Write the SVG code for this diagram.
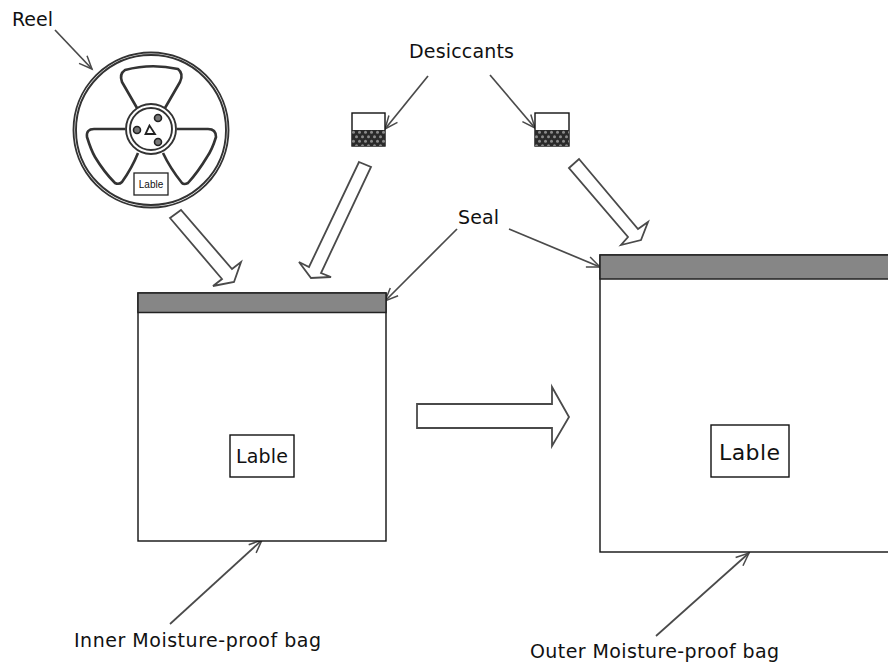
<svg xmlns="http://www.w3.org/2000/svg" width="888" height="663" viewBox="0 0 888 663">
<style>
text{font-family:"DejaVu Sans",Verdana,sans-serif;fill:#111}
.t{font-size:19px}
.box{fill:#fff;stroke:#111;stroke-width:1.4}
.seal{fill:#868686;stroke:#222;stroke-width:1.5}
.ln{fill:none;stroke:#4a4a4a;stroke-width:1.7}
.big{fill:#fff;stroke:#4a4a4a;stroke-width:1.8;stroke-linejoin:miter}
.r{fill:none;stroke:#333;stroke-width:1.9}
.l{fill:none;stroke:#333;stroke-width:2.6;stroke-linejoin:round}
.s{fill:#777;stroke:#222;stroke-width:1.6}
</style>
<defs>
<marker id="a" markerUnits="userSpaceOnUse" markerWidth="18" markerHeight="16" refX="14" refY="7" orient="auto"><path d="M1 1.500L14 7L1 12.500" fill="none" stroke="#4a4a4a" stroke-width="1.5"/></marker>
<pattern id="dots" x="352" y="130" width="6" height="9" patternUnits="userSpaceOnUse"><rect width="6" height="9" fill="#2a2a2a"/><circle cx="1.500" cy="2.200" r="1.500" fill="#8a8a8a"/><circle cx="4.500" cy="6.700" r="1.500" fill="#8a8a8a"/></pattern>
</defs>
<g id="connectors">
<path class="ln" marker-end="url(#a)" d="M55 30L92 69"/>
<path class="ln" marker-end="url(#a)" d="M428 76L385 129"/>
<path class="ln" marker-end="url(#a)" d="M490 75L535 128"/>
<path class="ln" marker-end="url(#a)" d="M457 229L385 301"/>
<path class="ln" marker-end="url(#a)" d="M509 229L600 267"/>
<path class="ln" marker-end="url(#a)" d="M170 624L262 540"/>
<path class="ln" marker-end="url(#a)" d="M656 636L749 553"/>
<polygon class="big" points="170,218 181,210 232,269 241,262 234,282 213,286 222,279"/>
<polygon class="big" points="359,162 371,167 321,273 331,277 311,278 299,262 309,267"/>
<polygon class="big" points="569,168 579,159 638,229 648,222 641,240 621,245 628,237"/>
<polygon class="big" points="417,404 552,404 552,387 569,417 552,446 552,428 417,428"/>
</g>
<g id="reel">
<circle class="r" cx="151" cy="130" r="77.500"/><circle class="r" cx="151" cy="130" r="75"/>
<path class="l" d="M137 108L122 82Q119 74 125 70Q151 63 178 69Q184 74 180 82L165 108"/>
<path class="l" d="M125 129H94Q86 129 87 137Q91 150 95 157Q104 172 115 183Q119 185 122 182Q132 168 138 153"/>
<path class="l" d="M177 129H208Q216 129 216 137Q212 150 207 157Q198 172 188 183Q184 185 182 183Q170 168 163 153"/>
<circle class="r" cx="151" cy="129" r="25"/><circle class="r" cx="151" cy="129" r="21"/>
<circle class="s" cx="158" cy="118" r="3.500"/><circle class="s" cx="137" cy="130" r="3.500"/><circle class="s" cx="158" cy="142" r="3.500"/>
<path fill="none" stroke="#222" stroke-width="1.800" d="M149.500 125.500L145.500 134H155Z"/>
<rect x="134" y="173" width="34" height="22" fill="#fff" stroke="#222" stroke-width="1.300"/>
<text x="151" y="188" font-size="10" text-anchor="middle" style="font-family:'Liberation Sans',sans-serif">Lable</text>
</g>
<g id="desiccant-1"><rect class="box" x="352" y="113" width="33" height="33"/><rect x="352" y="130" width="33" height="16" fill="url(#dots)"/></g>
<g id="desiccant-2"><rect class="box" x="535" y="113" width="34" height="33"/><rect x="535" y="130" width="34" height="16" fill="url(#dots)"/></g>
<g id="inner-bag">
<rect class="box" x="138" y="293" width="248" height="248"/><rect class="seal" x="138" y="293" width="248" height="19.500"/>
<rect class="box" x="230" y="435" width="64" height="42"/>
<text class="t" x="236" y="463" textLength="52" lengthAdjust="spacing">Lable</text>
</g>
<g id="outer-bag">
<rect class="box" x="600" y="255" width="300" height="297"/><rect class="seal" x="600" y="255" width="300" height="24"/>
<rect class="box" x="711" y="425" width="78" height="52"/>
<text x="719" y="460" font-size="22" textLength="61" lengthAdjust="spacing">Lable</text>
</g>
<g id="labels">
<text class="t" x="12" y="26" textLength="41" lengthAdjust="spacing">Reel</text>
<text class="t" x="409" y="58" textLength="105" lengthAdjust="spacing">Desiccants</text>
<text class="t" x="458" y="224" textLength="41" lengthAdjust="spacing">Seal</text>
<text class="t" x="74" y="647" textLength="247" lengthAdjust="spacing">Inner Moisture-proof bag</text>
<text class="t" x="530" y="658" textLength="249" lengthAdjust="spacing">Outer Moisture-proof bag</text>
</g>
</svg>
